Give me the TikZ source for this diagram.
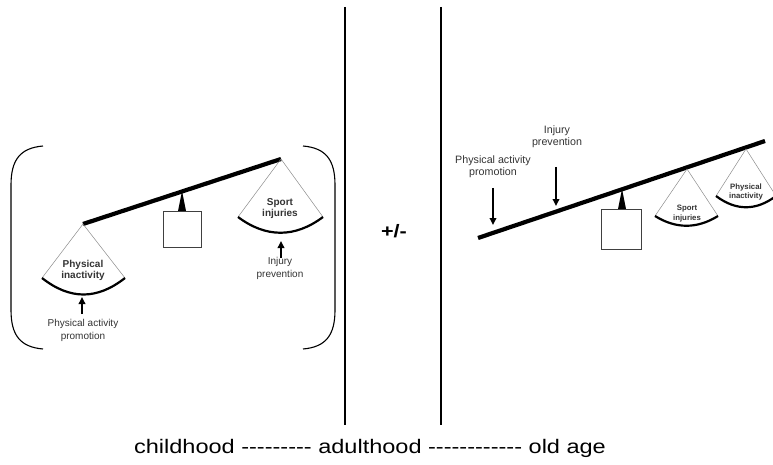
\documentclass[tikz,border=0pt]{standalone}
\usepackage{fontspec}
\setmainfont{Liberation Sans}
\newfontfamily\capfont[FakeStretch=1.2]{Liberation Sans}
\usetikzlibrary{arrows.meta}
\newcommand\dashrun[1]{\foreach \k in {1,...,#1}{\mbox{-}}}
\begin{document}
\begin{tikzpicture}[x=1pt,y=-1pt,
  beam/.style={line width=4.2pt},
  side/.style={draw=black!45, line width=0.5pt},
  pan/.style={line width=2.2pt},
  bracket/.style={line width=1.1pt},
  push/.style={line width=2pt,-{Triangle[length=7pt,width=6.5pt]}},
  lbl/.style={inner sep=0pt, align=center, text=black!80},
  boxst/.style={draw=black!75, line width=0.9pt, minimum width=38pt, minimum height=36pt, inner sep=0pt}]
\useasboundingbox (0,0) rectangle (773,465);
\clip (0,0) rectangle (773,465);

% separators
\draw[line width=1.3pt] (345,7) -- (345,425);
\draw[line width=2pt] (441,7) -- (441,425);

% ---------- left panel ----------
\draw[bracket] (43,146) .. controls (20,148) and (11,160) .. (11,185) -- (11,310) .. controls (11,335) and (20,347) .. (43,349);
\draw[bracket] (303,146) .. controls (326,148) and (335,160) .. (335,185) -- (335,310) .. controls (335,335) and (326,347) .. (303,349);

\coordinate (LB1) at (83,224);
\coordinate (LB2) at (281,159);
\draw[beam] (LB1) -- (LB2);
\fill (178,211) -- (182,191) -- (186,211) -- cycle;
\node[boxst] (lbox) at (182,229) {};

% left pan
\coordinate (LP1a) at (42,278);
\coordinate (LP1b) at (125,278);
\draw[side] (LP1a) -- (LB1) -- (LP1b);
\draw[pan] (LP1a) .. controls (70,300) and (97,300) .. (LP1b);
% right pan
\coordinate (LP2a) at (238,217);
\coordinate (LP2b) at (323,217);
\draw[side] (LP2a) -- (LB2) -- (LP2b);
\draw[pan] (LP2a) .. controls (266,238) and (295,238) .. (LP2b);

\node[lbl, font=\bfseries\fontsize{10}{11}\selectfont] (pi1) at (83,270) {Physical\\inactivity};
\node[lbl, font=\bfseries\fontsize{10}{11}\selectfont] (si1) at (280,208.5) {Sport\\injuries};
\node[lbl, font=\fontsize{10}{13}\selectfont] (pap1) at (83,330.5) {Physical activity\\promotion};
\node[lbl, font=\fontsize{10}{13}\selectfont] (ip1) at (280,268.5) {Injury\\prevention};

\coordinate (a1s) at (82,314); \coordinate (a1e) at (82,297);
\coordinate (a2s) at (281,258); \coordinate (a2e) at (281,241);
\draw[push] (a1s) -- (a1e);
\draw[push] (a2s) -- (a2e);

% plus/minus
\node[font=\capfont\bfseries\fontsize{18}{18}\selectfont, inner sep=0pt] (pm) at (394,231) {+/-};

% ---------- right panel ----------
\coordinate (RB1) at (478,238);
\coordinate (RB2) at (765,141);
\draw[beam] (RB1) -- (RB2);
\fill (618,209) -- (622,189) -- (626,209) -- cycle;
\node[boxst, minimum width=40pt, minimum height=40pt] (rbox) at (621,229) {};

\coordinate (RP1) at (687,169);
\coordinate (RP1a) at (655,216);
\coordinate (RP1b) at (718,216);
\draw[side] (RP1a) -- (RP1) -- (RP1b);
\draw[pan] (RP1a) .. controls (676,229) and (697,229) .. (RP1b);

\coordinate (RP2) at (746,149);
\coordinate (RP2a) at (716,196);
\coordinate (RP2b) at (776,196);
\draw[side] (RP2a) -- (RP2) -- (RP2b);
\draw[pan] (RP2a) .. controls (736,211) and (756,211) .. (RP2b);

\node[lbl, font=\bfseries\fontsize{7.8}{9.5}\selectfont] (si2) at (687,213.5) {Sport\\injuries};
\node[lbl, font=\bfseries\fontsize{7.8}{9.8}\selectfont] (pi2) at (746,192) {Physical\\inactivity};
\node[lbl, font=\fontsize{10.7}{12}\selectfont] (pap2) at (493,167) {Physical activity\\promotion};
\node[lbl, font=\fontsize{10.7}{12}\selectfont] (ip2) at (557,137) {Injury\\prevention};

\coordinate (a3s) at (493,188); \coordinate (a3e) at (493,225);
\coordinate (a4s) at (556,167); \coordinate (a4e) at (556,206);
\draw[push] (a3s) -- (a3e);
\draw[push] (a4s) -- (a4e);

% caption
\node[font=\capfont\fontsize{19.6}{20}\selectfont, anchor=base, inner sep=0pt] (cap) at (370,453) {childhood \dashrun{9} adulthood \dashrun{12} old age};
\end{tikzpicture}
\end{document}
